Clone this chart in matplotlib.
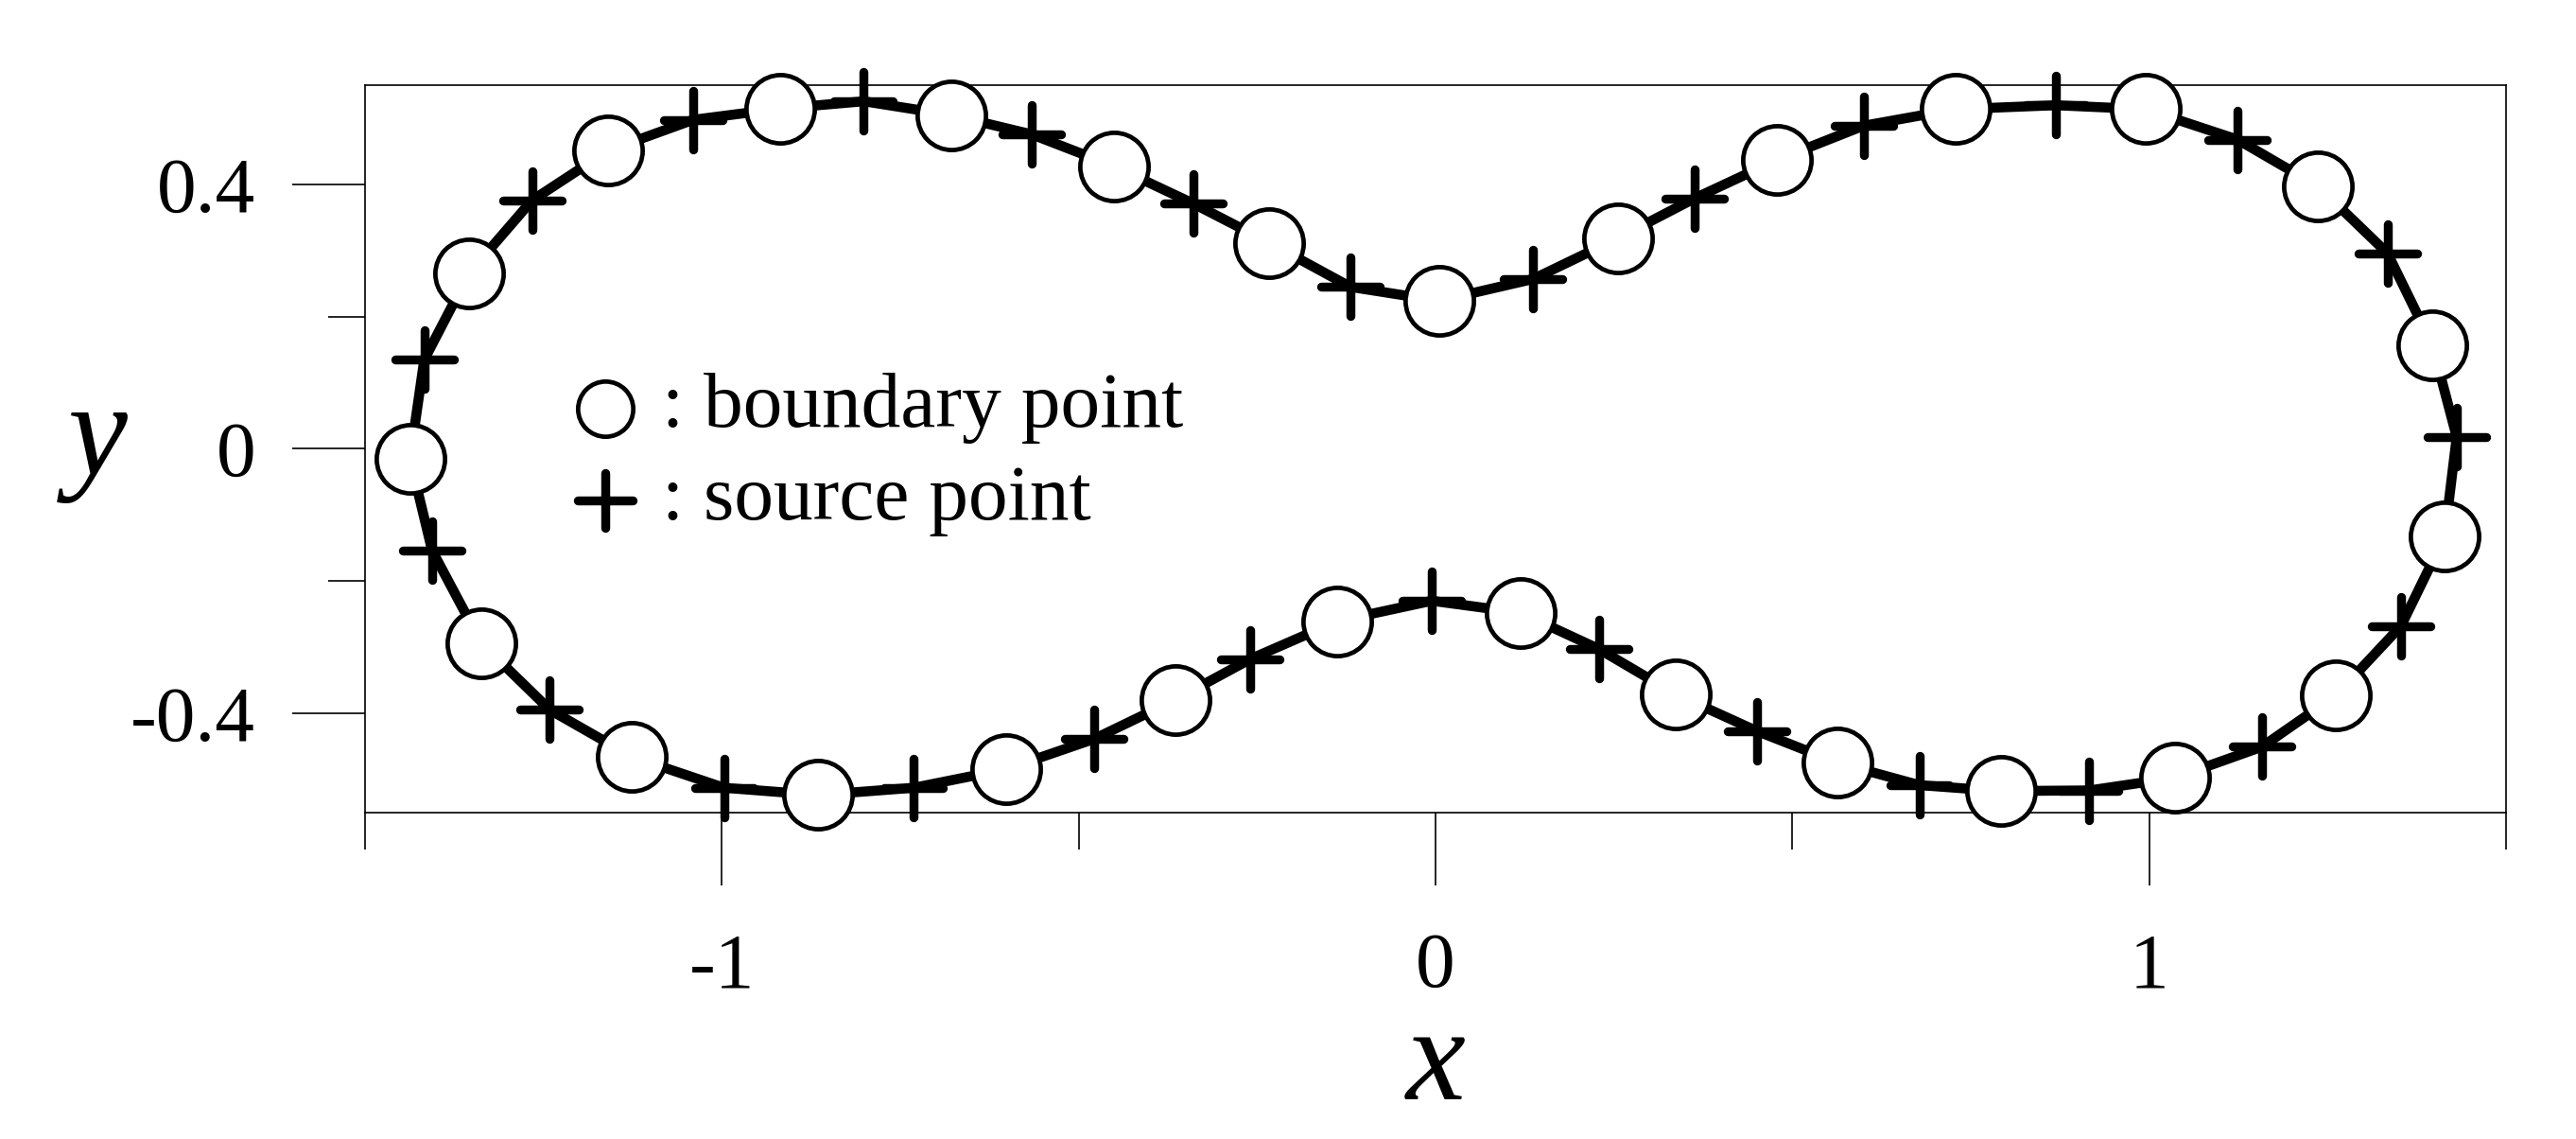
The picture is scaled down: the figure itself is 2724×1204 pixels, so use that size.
import numpy as np
import matplotlib
matplotlib.use("Agg")
import matplotlib.pyplot as plt
from matplotlib.markers import MarkerStyle

plt.rcParams.update({
    'font.family': ['Liberation Serif', 'DejaVu Serif'],
    'axes.unicode_minus': False,
    'mathtext.fontset': 'custom',
    'mathtext.rm': 'Liberation Serif',
    'mathtext.it': 'Liberation Serif:italic',
})

# boundary points (circles), going clockwise from the left tip
boundary_x = [-1.437, -1.354, -1.160, -0.918, -0.678, -0.451, -0.233, 0.005, 0.256,
              0.478, 0.729, 0.995, 1.237, 1.397, 1.414, 1.262, 1.036, 0.792,
              0.563, 0.336, 0.119, -0.138, -0.365, -0.602, -0.865, -1.126, -1.337]
boundary_y = [-0.015, 0.266, 0.451, 0.515, 0.505, 0.428, 0.312, 0.224, 0.319,
              0.437, 0.514, 0.514, 0.397, 0.157, -0.133, -0.373, -0.498, -0.518,
              -0.475, -0.371, -0.248, -0.261, -0.380, -0.485, -0.524, -0.466, -0.294]

# source points (plus signs), each one follows the boundary point with the same index
source_x = [-1.417, -1.266, -1.040, -0.801, -0.566, -0.339, -0.119, 0.137, 0.363,
            0.600, 0.869, 1.124, 1.334, 1.431, 1.353, 1.158, 0.916, 0.678,
            0.450, 0.229, -0.005, -0.259, -0.478, -0.731, -0.997, -1.241, -1.406]
source_y = [0.135, 0.376, 0.498, 0.526, 0.476, 0.371, 0.245, 0.257, 0.379,
            0.489, 0.520, 0.468, 0.296, 0.018, -0.268, -0.451, -0.517, -0.509,
            -0.427, -0.303, -0.230, -0.318, -0.439, -0.513, -0.513, -0.395, -0.154]

x_major = [-1, 0, 1]
x_minor = [-1.5, -0.5, 0.5, 1.5]
x_labels = ['-1', '0', '1']
y_major = [-0.4, 0, 0.4]
y_minor = [-0.2, 0.2]
y_labels = ['-0.4', '0', '0.4']

# the boundary curve goes through both kinds of points in turn
curve_x = np.column_stack([boundary_x, source_x]).ravel()
curve_y = np.column_stack([boundary_y, source_y]).ravel()
curve_x = np.append(curve_x, curve_x[0])
curve_y = np.append(curve_y, curve_y[0])

fig = plt.figure(figsize=(13.62, 6.02), dpi=200)
ax = fig.add_axes([0.1417, 0.2869, 0.8311, 0.6381])

plus = MarkerStyle('+', capstyle='round')

ax.plot(curve_x, curve_y, color='black', lw=3.8, solid_joinstyle='round', zorder=3)
ax.plot(source_x, source_y, ls='none', marker=plus, ms=22, mew=3.4,
        color='black', zorder=4, clip_on=False)
ax.plot(boundary_x, boundary_y, ls='none', marker='o', ms=26, mew=1.7,
        mfc='white', mec='black', zorder=5, clip_on=False)

ax.set_xlim(-1.5, 1.5)
ax.set_ylim(-0.55, 0.55)

ax.set_xticks(x_major)
ax.set_xticklabels(x_labels)
ax.set_xticks(x_minor, minor=True)
ax.set_yticks(y_major)
ax.set_yticklabels(y_labels)
ax.set_yticks(y_minor, minor=True)

ax.tick_params(which='major', direction='out', length=27.7, width=0.6,
               labelsize=30, color='black')
ax.tick_params(which='minor', direction='out', length=14, width=0.6, color='black')
ax.tick_params(axis='x', which='major', pad=18)
ax.tick_params(axis='y', which='major', pad=14)

for sp in ax.spines.values():
    sp.set_linewidth(0.6)
    sp.set_color('black')

ax.set_xlabel('$x$', fontsize=51, va='baseline', ha='center')
ax.xaxis.set_label_coords(0.5, -0.395)
ax.set_ylabel('$y$', fontsize=51, rotation=0, va='baseline', ha='center')
ax.yaxis.set_label_coords(-0.1272, 0.4641)

# legend drawn by hand inside the axes
ax.plot([0.1121], [0.5547], transform=ax.transAxes, ls='none', marker='o', ms=21,
        mew=1.7, mfc='white', mec='black', zorder=6, clip_on=False)
ax.plot([0.1121], [0.4289], transform=ax.transAxes, ls='none', marker=plus, ms=21,
        mew=3.4, color='black', zorder=6, clip_on=False)
ax.text(0.1387, 0.5305, ': boundary point', transform=ax.transAxes,
        fontsize=30, ha='left', va='baseline')
ax.text(0.1387, 0.4030, ': source point', transform=ax.transAxes,
        fontsize=30, ha='left', va='baseline')

fig.savefig('out.png', dpi=200, facecolor='white')
